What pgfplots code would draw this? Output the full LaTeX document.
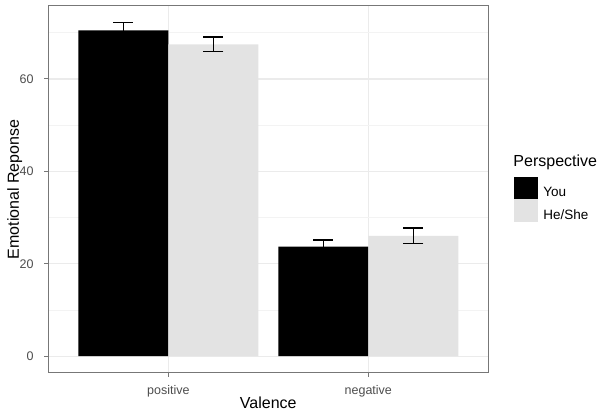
\documentclass[border=0pt]{standalone}
\usepackage{fontspec}
\setmainfont{Liberation Sans}
\usepackage{pgfplots}
\pgfplotsset{compat=1.18}
\definecolor{gridmaj}{HTML}{EBEBEB}
\definecolor{gridmin}{HTML}{F3F3F3}
\definecolor{hebar}{HTML}{E3E3E3}
\definecolor{frame}{HTML}{777777}
\definecolor{ticklab}{HTML}{4D4D4D}

\begin{document}
\begin{tikzpicture}
\useasboundingbox (-48.3pt,-41.3pt) rectangle (554.7pt,372.7pt);
\begin{axis}[
    at={(0pt,0pt)}, anchor=south west,
    scale only axis,
    width=440pt, height=366.7pt,
    xmin=0.4, xmax=2.6,
    ymin=-3.6, ymax=75.8,
    clip=false,
    ybar,
    bar width=0.45,
    xtick={1,2},
    xticklabels={positive,negative},
    ytick={0,20,40,60},
    minor ytick={10,30,50,70},
    minor tick length=0pt,
    major tick length=4pt,
    tick align=outside,
    xtick pos=left, ytick pos=left,
    xmajorgrids, ymajorgrids, yminorgrids,
    major grid style={draw=gridmaj, line width=1.1pt},
    minor grid style={draw=gridmin, line width=0.6pt},
    axis line style={draw=frame, line width=1pt},
    tick style={draw=frame, line width=1pt},
    /pgf/number format/assume math mode=true,
    ticklabel style={font=\fontsize{12.5}{15}\selectfont, text=ticklab, inner sep=0pt},
    xticklabel style={anchor=base, yshift=-18pt},
    yticklabel style={anchor=east, xshift=-10.6pt},
    xlabel={Valence},
    ylabel={Emotional Reponse},
    label style={font=\fontsize{16}{19}\selectfont, inner sep=0pt},
    xlabel style={at={(axis description cs:0.5,-0.099)}, anchor=base},
    ylabel style={at={(axis description cs:-0.0666,0.5)}, anchor=base},
    legend style={at={(rel axis cs:1.0585,0.5337)}, anchor=north west,
        draw=none, fill=none, inner sep=0pt, outer sep=0pt,
        row sep=0pt, column sep=5.3pt,
        nodes={inner sep=0pt, font=\fontsize{13.5}{16}\selectfont}},
    legend cell align=left,
    error bars/error bar style={line width=1.3pt, black},
    error bars/error mark options={rotate=90, line width=1.3pt, black, mark size=10pt},
]
\addplot+[fill=black, draw=none, bar shift=-0.225,
    legend image code/.code={\fill[black] (0pt,-6.5pt) rectangle (24pt,16pt);},
    error bars/.cd, y dir=both, y explicit]
coordinates {
    (1,70.5) +- (0,1.7)
    (2,23.7) +- (0,1.4)
};
\addlegendentry{You}
\addplot+[fill=hebar, draw=none, bar shift=0.225,
    legend image code/.code={\fill[hebar] (0pt,-6.5pt) rectangle (24pt,16pt);},
    error bars/.cd, y dir=both, y explicit]
coordinates {
    (1,67.5) +- (0,1.6)
    (2,26.0) +- (0,1.7)
};
\addlegendentry{He/She}
\node[anchor=base west, inner sep=0pt, font=\fontsize{16}{19}\selectfont]
    at (rel axis cs:1.0568,0.561) {Perspective};
\end{axis}
\end{tikzpicture}
\end{document}
